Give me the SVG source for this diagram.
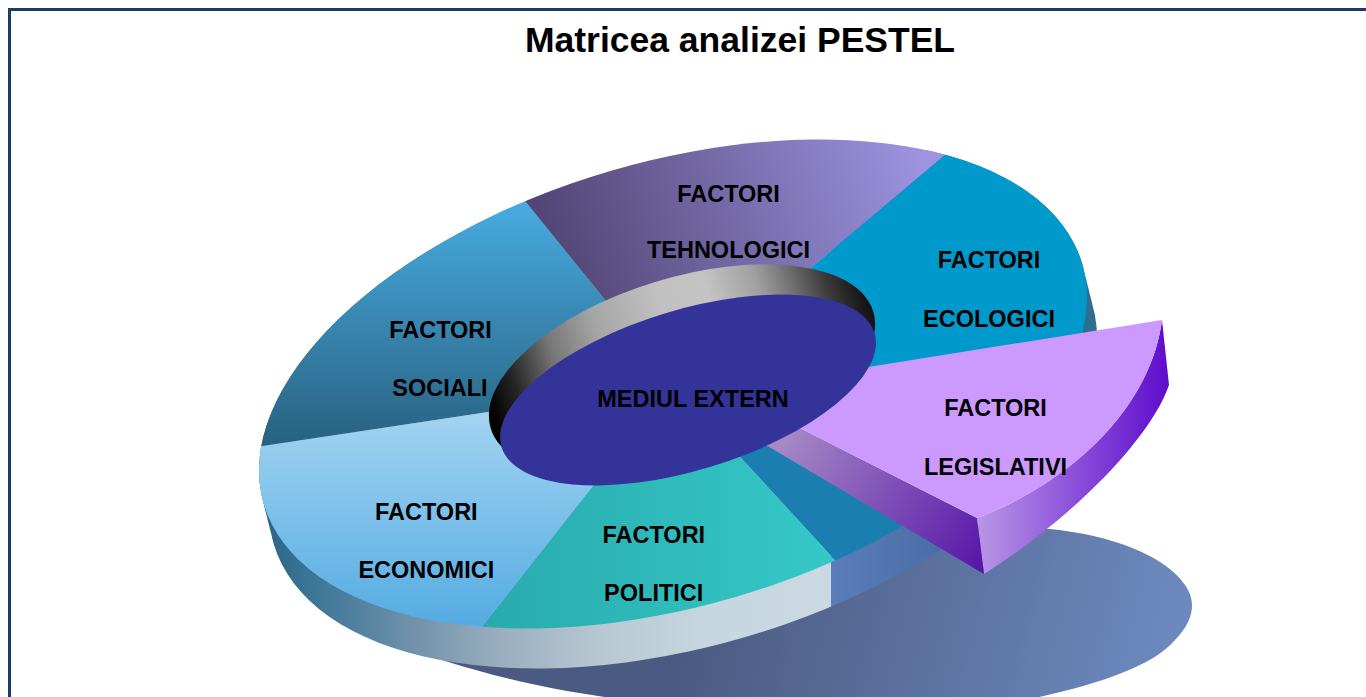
<svg xmlns="http://www.w3.org/2000/svg" width="1366" height="697" viewBox="0 0 1366 697">
<defs>
<style>
.lbl{font-family:"Liberation Sans",Arial,sans-serif;font-weight:bold;font-size:23.5px;fill:#000;text-anchor:middle}
.ttl{font-family:"Liberation Sans",Arial,sans-serif;font-weight:bold;font-size:35.5px;fill:#000;text-anchor:middle}
</style>
<linearGradient id="gSide" gradientUnits="userSpaceOnUse" x1="259" y1="0" x2="1100" y2="0">
<stop offset="0" stop-color="#2a6181"/>
<stop offset="0.048" stop-color="#377294"/>
<stop offset="0.107" stop-color="#4d7f9e"/>
<stop offset="0.19" stop-color="#7494ab"/>
<stop offset="0.287" stop-color="#9aaec0"/>
<stop offset="0.405" stop-color="#b8c8d2"/>
<stop offset="0.524" stop-color="#c6d6de"/>
<stop offset="0.68" stop-color="#cbdae2"/>
<stop offset="0.68" stop-color="#5b7db9"/>
<stop offset="0.803" stop-color="#4a6ea8"/>
<stop offset="0.88" stop-color="#2e6e8e"/>
<stop offset="1" stop-color="#2e6e8e"/>
</linearGradient>
<linearGradient id="gSoc" gradientUnits="userSpaceOnUse" x1="0" y1="205" x2="0" y2="450">
<stop offset="0" stop-color="#47abe0"/><stop offset="1" stop-color="#285f7e"/>
</linearGradient>
<linearGradient id="gTeh" gradientUnits="userSpaceOnUse" x1="560" y1="270" x2="920" y2="150">
<stop offset="0" stop-color="#524676"/><stop offset="1" stop-color="#9d93e0"/>
</linearGradient>
<linearGradient id="gEcon" gradientUnits="userSpaceOnUse" x1="0" y1="415" x2="0" y2="625">
<stop offset="0" stop-color="#a2d3f1"/><stop offset="1" stop-color="#55ace3"/>
</linearGradient>
<linearGradient id="gPol" gradientUnits="userSpaceOnUse" x1="490" y1="0" x2="830" y2="0">
<stop offset="0" stop-color="#29abae"/><stop offset="1" stop-color="#35c8c8"/>
</linearGradient>
<linearGradient id="gRing" gradientUnits="userSpaceOnUse" x1="487" y1="0" x2="877" y2="0">
<stop offset="0" stop-color="#000"/>
<stop offset="0.08" stop-color="#262626"/>
<stop offset="0.195" stop-color="#777"/>
<stop offset="0.32" stop-color="#a5a5a5"/>
<stop offset="0.49" stop-color="#c0c0c0"/>
<stop offset="0.62" stop-color="#c4c4c4"/>
<stop offset="0.75" stop-color="#a0a0a0"/>
<stop offset="0.836" stop-color="#6e6e6e"/>
<stop offset="0.92" stop-color="#3a3a3a"/>
<stop offset="1" stop-color="#151515"/>
</linearGradient>
<linearGradient id="gShadow" gradientUnits="userSpaceOnUse" x1="700" y1="580" x2="1150" y2="697">
<stop offset="0" stop-color="#4b5a82"/><stop offset="1" stop-color="#6c88bd"/>
</linearGradient>
<linearGradient id="gLegSide" gradientUnits="userSpaceOnUse" x1="977" y1="0" x2="1169" y2="0">
<stop offset="0" stop-color="#b996e6"/><stop offset="1" stop-color="#5e0ccc"/>
</linearGradient>
<linearGradient id="gLegRad" gradientUnits="userSpaceOnUse" x1="780" y1="440" x2="980" y2="570">
<stop offset="0" stop-color="#a68ac6"/><stop offset="1" stop-color="#5816a8"/>
</linearGradient>
<clipPath id="cTop">
<ellipse cx="673" cy="384" rx="426.5" ry="222" transform="rotate(-16.35 673 384)"/>
</clipPath>
<clipPath id="cSide">
<ellipse cx="673" cy="384" rx="426.5" ry="222" transform="rotate(-16.35 673 384)"/>
<ellipse cx="673" cy="384" rx="426.5" ry="222" transform="translate(2.5 10) rotate(-16.35 673 384)"/>
<ellipse cx="673" cy="384" rx="426.5" ry="222" transform="translate(5 20) rotate(-16.35 673 384)"/>
<ellipse cx="673" cy="384" rx="426.5" ry="222" transform="translate(7.5 30) rotate(-16.35 673 384)"/>
<ellipse cx="673" cy="384" rx="426.5" ry="222" transform="translate(10 40) rotate(-16.35 673 384)"/>
</clipPath>
<clipPath id="cKeep">
<polygon points="673,384 1369,736 1369,1000 -200,1000 -200,-300 1600,-300 1600,547.8"/>
</clipPath>
</defs>

<rect x="0" y="0" width="1366" height="697" fill="#fff"/>
<rect x="9.5" y="9.5" width="1400" height="800" fill="none" stroke="#1a3b66" stroke-width="3"/>

<text class="ttl" x="740" y="52">Matricea analizei PESTEL</text>

<path id="shadow" fill="url(#gShadow)" d="M380,610 L395,643 C450,665 530,688 620,699 L640,705 L1000,705 C1080,690 1150,670 1175,640 C1195,620 1196,600 1185,585 C1165,555 1110,535 1050,529 L900,520 Z"/>

<g id="disc" clip-path="url(#cKeep)">
  <g id="disc-side" clip-path="url(#cSide)">
    <rect x="250" y="150" width="870" height="540" fill="url(#gSide)"/>
  </g>
  <g clip-path="url(#cTop)">
    <g id="slice-sociali"><polygon points="673,384 -147,508 -147,-147 244,-147" fill="url(#gSoc)"/></g>
    <g id="slice-tehnologici"><polygon points="673,384 244,-147 1489,-303" fill="url(#gTeh)"/></g>
    <g id="slice-ecologici"><polygon points="673,384 1489,-303 1559,540.6" fill="#0099cc"/></g>
    <g id="slice-gap"><polygon points="673,384 1369,736 1309,1076" fill="#1a7fb0"/></g>
    <g id="slice-politici"><polygon points="673,384 1309,1076 109,1101" fill="url(#gPol)"/></g>
    <g id="slice-economici"><polygon points="673,384 109,1101 -147,508" fill="url(#gEcon)"/></g>
  </g>
</g>

<g id="hole">
  <ellipse cx="682" cy="370" rx="200" ry="92" transform="rotate(-17 682 370)" fill="url(#gRing)"/>
</g>

<g id="slice-legislativi">
  <path d="M977,518 C1065,485 1150,412 1162,320 L1169,385 C1150,440 1070,520 984,574 Z" fill="url(#gLegSide)"/>
  <path d="M725,390 L977,518 L984,574 L725,421 Z" fill="url(#gLegRad)"/>
  <path d="M725,390 L1162,320 C1150,412 1065,485 977,518 Z" fill="#cc99ff"/>
</g>

<g id="node-mediul">
  <ellipse cx="688" cy="390" rx="195" ry="80" transform="rotate(-17 688 390)" fill="#333399"/>
  <text class="lbl" x="693" y="407">MEDIUL EXTERN</text>
</g>

<g id="labels">
  <g id="lbl-tehnologici"><text class="lbl" x="728.5" y="201.5">FACTORI</text><text class="lbl" x="728.5" y="258">TEHNOLOGICI</text></g>
  <g id="lbl-ecologici"><text class="lbl" x="989" y="268">FACTORI</text><text class="lbl" x="989" y="326.5">ECOLOGICI</text></g>
  <g id="lbl-legislativi"><text class="lbl" x="995.5" y="415.5">FACTORI</text><text class="lbl" x="995.5" y="475">LEGISLATIVI</text></g>
  <g id="lbl-sociali"><text class="lbl" x="440.5" y="338">FACTORI</text><text class="lbl" x="440" y="396">SOCIALI</text></g>
  <g id="lbl-economici"><text class="lbl" x="426.3" y="520">FACTORI</text><text class="lbl" x="426.3" y="578">ECONOMICI</text></g>
  <g id="lbl-politici"><text class="lbl" x="653.8" y="543">FACTORI</text><text class="lbl" x="653.7" y="601">POLITICI</text></g>
</g>
<g id="connectors"/>
</svg>
